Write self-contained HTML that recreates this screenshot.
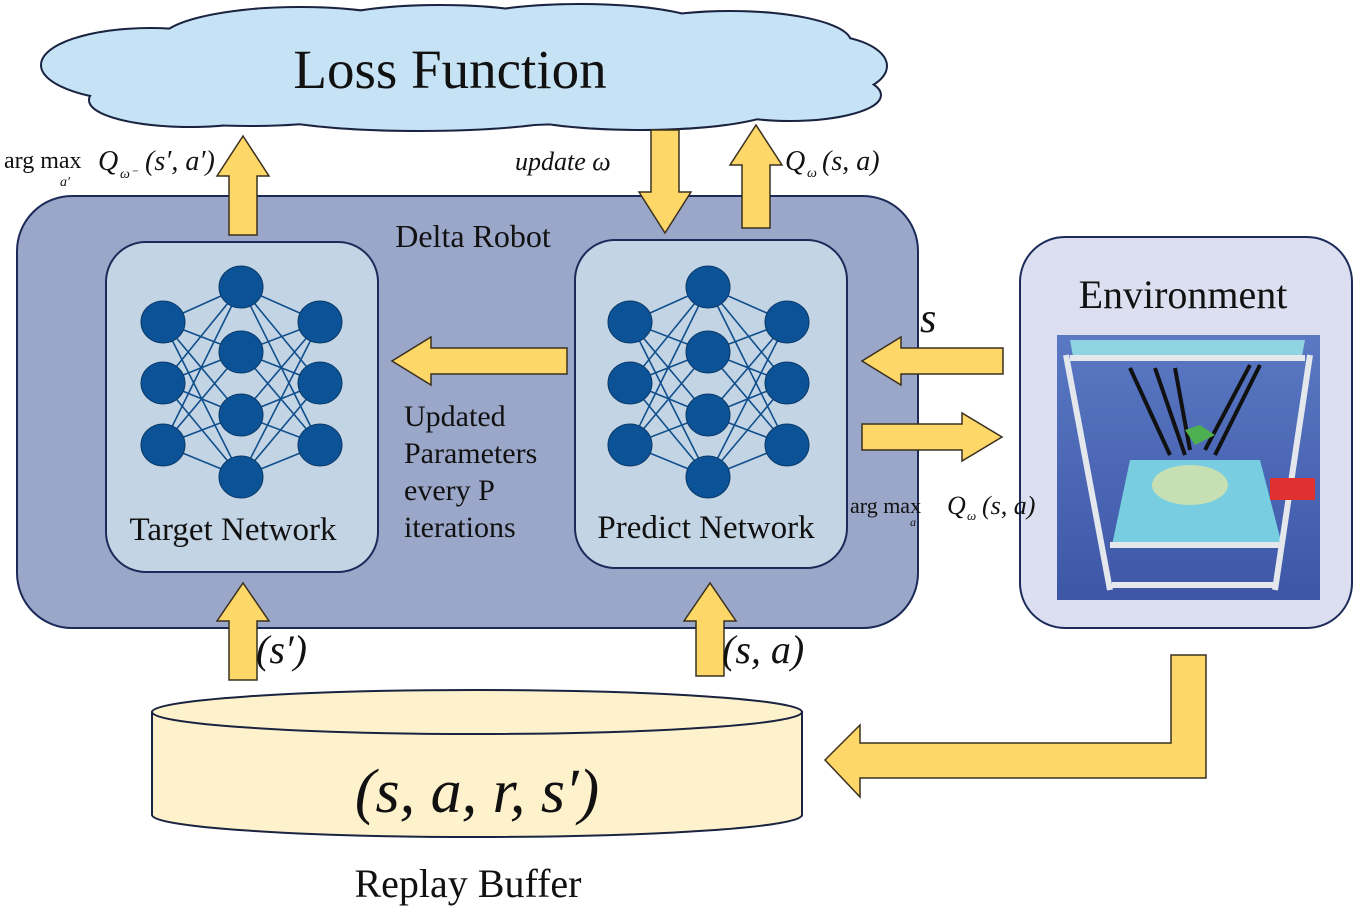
<!DOCTYPE html>
<html><head><meta charset="utf-8"><style>
html,body{margin:0;padding:0;background:#fff}
svg{display:block}
text{font-family:"Liberation Serif",serif;fill:#111}
</style></head><body>
<svg width="1355" height="909" viewBox="0 0 1355 909" xmlns="http://www.w3.org/2000/svg">
<defs>
<linearGradient id="bg" x1="0" y1="0" x2="0" y2="1"><stop offset="0" stop-color="#5a78c4"/><stop offset="1" stop-color="#3d57a6"/></linearGradient>
</defs>
<!-- cloud -->
<g stroke="#1a2340" stroke-width="4" fill="#c6e3f6">
<ellipse cx="470" cy="70" rx="330" ry="55"/><ellipse cx="150" cy="65" rx="108" ry="36"/><ellipse cx="190" cy="100" rx="100" ry="26"/><ellipse cx="300" cy="42" rx="140" ry="34"/><ellipse cx="440" cy="32" rx="130" ry="26"/><ellipse cx="580" cy="30" rx="130" ry="25"/><ellipse cx="730" cy="42" rx="120" ry="30"/><ellipse cx="820" cy="66" rx="66" ry="30"/><ellipse cx="790" cy="95" rx="90" ry="25"/><ellipse cx="640" cy="105" rx="140" ry="24"/><ellipse cx="420" cy="110" rx="160" ry="20"/><ellipse cx="250" cy="105" rx="120" ry="20"/>
</g>
<g fill="#c6e3f6">
<ellipse cx="470" cy="70" rx="330" ry="55"/><ellipse cx="150" cy="65" rx="108" ry="36"/><ellipse cx="190" cy="100" rx="100" ry="26"/><ellipse cx="300" cy="42" rx="140" ry="34"/><ellipse cx="440" cy="32" rx="130" ry="26"/><ellipse cx="580" cy="30" rx="130" ry="25"/><ellipse cx="730" cy="42" rx="120" ry="30"/><ellipse cx="820" cy="66" rx="66" ry="30"/><ellipse cx="790" cy="95" rx="90" ry="25"/><ellipse cx="640" cy="105" rx="140" ry="24"/><ellipse cx="420" cy="110" rx="160" ry="20"/><ellipse cx="250" cy="105" rx="120" ry="20"/>
</g>
<text x="450" y="88" font-size="55" text-anchor="middle">Loss Function</text>

<!-- delta robot box -->
<rect x="17" y="196" width="901" height="432" rx="55" fill="#9ba7c9" stroke="#1c2a5a" stroke-width="2"/>
<text x="473" y="247" font-size="32" text-anchor="middle">Delta Robot</text>
<rect x="106" y="242" width="272" height="330" rx="40" fill="#c3d4e4" stroke="#1c2a5a" stroke-width="2"/>
<rect x="575" y="240" width="272" height="328" rx="40" fill="#c3d4e4" stroke="#1c2a5a" stroke-width="2"/>
<text x="233" y="540" font-size="33" text-anchor="middle">Target Network</text>
<text x="706" y="538" font-size="33" text-anchor="middle">Predict Network</text>
<text font-size="30"><tspan x="404" y="426">Updated</tspan><tspan x="404" y="463">Parameters</tspan><tspan x="404" y="500">every P</tspan><tspan x="404" y="537">iterations</tspan></text>

<!-- networks -->
<g id="net" stroke="#104f8c" stroke-width="1.6">
<g>
<line x1="163" y1="322" x2="241" y2="287"/><line x1="163" y1="322" x2="241" y2="352"/><line x1="163" y1="322" x2="241" y2="415"/><line x1="163" y1="322" x2="241" y2="477"/>
<line x1="163" y1="383" x2="241" y2="287"/><line x1="163" y1="383" x2="241" y2="352"/><line x1="163" y1="383" x2="241" y2="415"/><line x1="163" y1="383" x2="241" y2="477"/>
<line x1="163" y1="445" x2="241" y2="287"/><line x1="163" y1="445" x2="241" y2="352"/><line x1="163" y1="445" x2="241" y2="415"/><line x1="163" y1="445" x2="241" y2="477"/>
<line x1="320" y1="322" x2="241" y2="287"/><line x1="320" y1="322" x2="241" y2="352"/><line x1="320" y1="322" x2="241" y2="415"/><line x1="320" y1="322" x2="241" y2="477"/>
<line x1="320" y1="383" x2="241" y2="287"/><line x1="320" y1="383" x2="241" y2="352"/><line x1="320" y1="383" x2="241" y2="415"/><line x1="320" y1="383" x2="241" y2="477"/>
<line x1="320" y1="445" x2="241" y2="287"/><line x1="320" y1="445" x2="241" y2="352"/><line x1="320" y1="445" x2="241" y2="415"/><line x1="320" y1="445" x2="241" y2="477"/>
</g>
<g fill="#0b5396" stroke="#0a3a6a" stroke-width="1">
<ellipse cx="163" cy="322" rx="22" ry="21"/><ellipse cx="163" cy="383" rx="22" ry="21"/><ellipse cx="163" cy="445" rx="22" ry="21"/>
<ellipse cx="241" cy="287" rx="22" ry="21"/><ellipse cx="241" cy="352" rx="22" ry="21"/><ellipse cx="241" cy="415" rx="22" ry="21"/><ellipse cx="241" cy="477" rx="22" ry="21"/>
<ellipse cx="320" cy="322" rx="22" ry="21"/><ellipse cx="320" cy="383" rx="22" ry="21"/><ellipse cx="320" cy="445" rx="22" ry="21"/>
</g>
</g>
<use href="#net" x="467" y="0"/>

<!-- environment -->
<rect x="1020" y="237" width="332" height="391" rx="45" fill="#dcdff0" stroke="#1c2a5a" stroke-width="2"/>
<text x="1183" y="308" font-size="40" text-anchor="middle">Environment</text>
<rect x="1057" y="335" width="263" height="265" fill="url(#bg)"/>
<polygon points="1070,340 1305,340 1302,356 1073,356" fill="#8fd4e0"/>
<polygon points="1130,460 1260,460 1282,545 1112,545" fill="#78cde0"/>
<g stroke="#e4e8ec" stroke-width="6" fill="none">
<line x1="1066" y1="355" x2="1110" y2="590"/><line x1="1310" y1="355" x2="1275" y2="590"/>
<line x1="1070" y1="358" x2="1305" y2="358"/><line x1="1110" y1="545" x2="1280" y2="545"/><line x1="1112" y1="585" x2="1275" y2="585"/>
</g>
<g stroke="#111" stroke-width="4">
<line x1="1130" y1="368" x2="1170" y2="455"/><line x1="1155" y1="368" x2="1185" y2="455"/><line x1="1175" y1="368" x2="1190" y2="450"/><line x1="1250" y1="365" x2="1205" y2="450"/><line x1="1260" y1="365" x2="1215" y2="455"/>
</g>
<polygon points="1185,430 1200,425 1215,435 1195,445" fill="#4caf50"/>
<ellipse cx="1190" cy="485" rx="38" ry="20" fill="#e8e8a0" opacity="0.7"/>
<rect x="1270" y="478" width="45" height="22" fill="#e03030"/>

<!-- replay buffer cylinder -->
<path d="M152,712 L152,815 A325,22 0 0 0 802,815 L802,712 Z" fill="#fef2cc" stroke="#1a2340" stroke-width="2"/>
<ellipse cx="477" cy="712" rx="325" ry="22" fill="#fef2cc" stroke="#1a2340" stroke-width="2"/>
<text x="477" y="812" font-size="62" font-style="italic" text-anchor="middle">(s, a, r, s′)</text>
<text x="468" y="897" font-size="40" text-anchor="middle">Replay Buffer</text>

<!-- arrows -->
<g fill="#fdd868" stroke="#3a3020" stroke-width="1.5" stroke-linejoin="miter">
<polygon points="229,235 229,176 217,176 243,136 269,176 257,176 257,235"/>
<polygon points="651,130 679,130 679,192 691,192 665,233 639,192 651,192"/>
<polygon points="742,228 742,165 730,165 756,125 782,165 770,165 770,228"/>
<polygon points="567,348 431,348 431,337 392,361 431,385 431,374 567,374"/>
<polygon points="1003,348 901,348 901,337 862,361 901,385 901,374 1003,374"/>
<polygon points="862,424 962,424 962,413 1002,437 962,461 962,450 862,450"/>
<polygon points="229,680 229,621 217,621 243,583 269,621 257,621 257,680"/>
<polygon points="696,676 696,621 684,621 710,583 736,621 724,621 724,676"/>
<polygon points="1171,655 1206,655 1206,778 860,778 860,797 825,760 860,725 860,743 1171,743"/>
</g>

<!-- labels -->
<text x="4" y="168" font-size="24">arg max</text>
<text x="60" y="186" font-size="14" font-style="italic">a′</text>
<text x="98" y="170" font-size="28" font-style="italic">Q</text>
<text x="120" y="178" font-size="14" font-style="italic">ω⁻</text>
<text x="145" y="170" font-size="28" font-style="italic">(s′, a′)</text>
<text x="515" y="170" font-size="26" font-style="italic">update  ω</text>
<text x="785" y="170" font-size="28" font-style="italic">Q</text>
<text x="807" y="177" font-size="14" font-style="italic">ω</text>
<text x="822" y="170" font-size="28" font-style="italic">(s, a)</text>
<text x="920" y="332" font-size="42" font-style="italic">s</text>
<text x="850" y="513" font-size="22">arg max</text>
<text x="910" y="526" font-size="12" font-style="italic">a</text>
<text x="947" y="514" font-size="26" font-style="italic">Q</text>
<text x="967" y="520" font-size="13" font-style="italic">ω</text>
<text x="982" y="514" font-size="26" font-style="italic">(s, a)</text>
<text x="256" y="663" font-size="40" font-style="italic">(s′)</text>
<text x="722" y="663" font-size="40" font-style="italic">(s, a)</text>
</svg>
</body></html>
